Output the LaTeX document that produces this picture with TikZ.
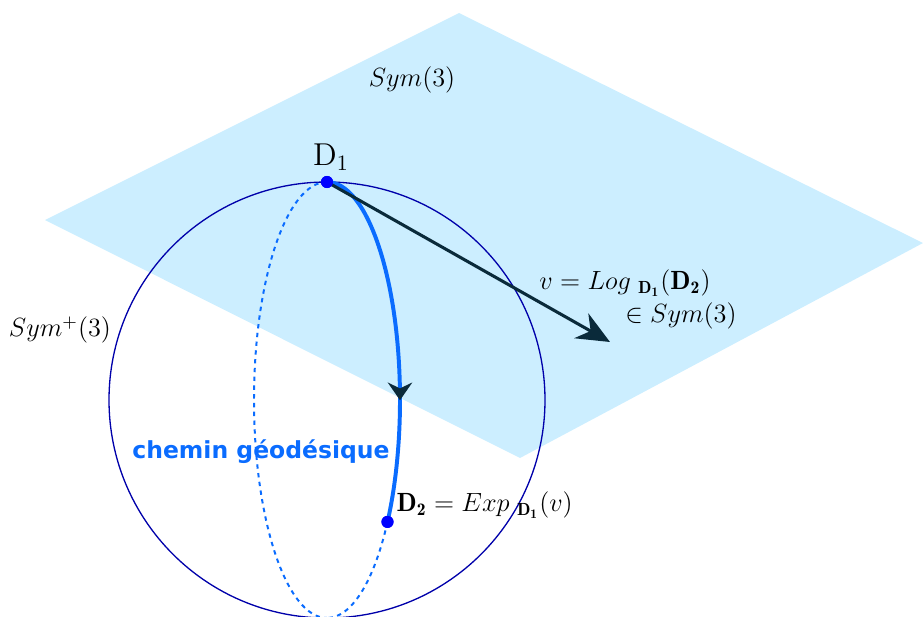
\documentclass[tikz,border=0pt]{standalone}
\usepackage{fontspec}
\newfontfamily\geofont{DejaVu Sans}
\usetikzlibrary{arrows.meta,decorations.markings}
\definecolor{planecol}{HTML}{CCEEFF}
\definecolor{spherecol}{HTML}{0000AA}
\definecolor{geocol}{HTML}{0A6CFF}
\definecolor{veccol}{HTML}{0A2A3A}
\definecolor{dotcol}{HTML}{0000FF}
\begin{document}
\begin{tikzpicture}[x=0.016cm,y=0.016cm,font=\large,
    pt/.style={circle,fill=dotcol,inner sep=0pt,minimum size=5.5pt},
    geo/.style={geocol,line width=1.8pt},
    hidden/.style={geocol,line width=0.9pt,dash pattern=on 2pt off 2pt},
    vec/.style={veccol,line width=1.4pt,-{Stealth[length=15pt,width=13pt]}}]
    \useasboundingbox (0,0) rectangle (923,616);

    % tangent plane
    \fill[planecol] (459,603) -- (45,396) -- (520,158) -- (923,373) -- cycle;
    \node (symlabel) at (412,536) {$Sym(3)$};

    % manifold
    \draw[spherecol,line width=0.6pt] (327,216) circle (218);
    \node (spdlabel) at (60,286) {$Sym^+(3)$};

    \node[pt] (d1) at (327,434) {};
    \node[pt] (d2) at (387.5,94.1) {};

    % back half of the geodesic
    \draw[hidden] (d1.center) arc (90:270:73 and 218);
    \draw[hidden] (d2.center) arc (-34:-90:73 and 218);

    \draw[geo,postaction={decorate},decoration={markings,
        mark=at position 0.665 with {\arrow[veccol]{Stealth[length=8pt,width=11pt]}}}]
        (d1.center) arc (90:-34:73 and 218);

    \coordinate (vtip) at (610,274);
    \draw[vec] (d1.center) -- (vtip);

    \node[pt] at (d1) {};
    \node[pt] at (d2) {};

    \node (d1label) at (331,459) {\Large$\mathrm{D_1}$};
    \node (loglabel) at (625,333) {$v = Log\;_{\mathbf{D_1}}(\mathbf{D_2})$};
    \node (inlabel) at (681,300) {$\in Sym(3)$};
    \node[anchor=west,inner sep=1pt] (explabel) at (394,111) {$\mathbf{D_2} = Exp\;_{\mathbf{D_1}}(v)$};
    \node[text=geocol] (geolabel) at (261,164) {\geofont\fontsize{10.7}{13}\selectfont\bfseries chemin géodésique};
\end{tikzpicture}
\end{document}
